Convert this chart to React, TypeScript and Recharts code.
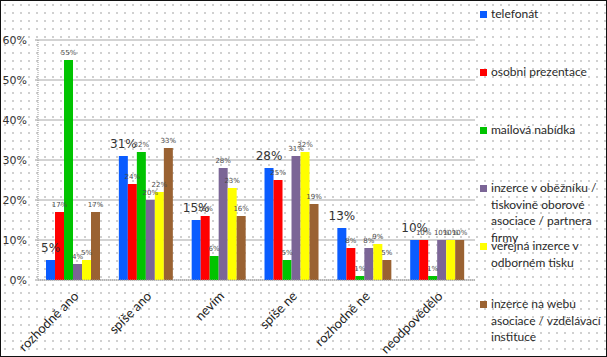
import { BarChart, Bar, XAxis, YAxis, CartesianGrid, LabelList } from "recharts";

const categories = ["rozhodně ano", "spíše ano", "nevím", "spíše ne", "rozhodně ne", "neodpovědělo"];

const seriesNames = [
  "telefonát",
  "osobni prezentace",
  "mailová nabídka",
  "inzerce v oběžníku / tiskovině oborové asociace / partnera firmy",
  "veřejná inzerce v odborném tisku",
  "inzerce na webu asociace / vzdělávací instituce",
];

const telefonat = [5, 31, 15, 28, 13, 10];
const osobni = [17, 24, 16, 25, 8, 10];
const mailova = [55, 32, 6, 5, 1, 1];
const obeznik = [4, 20, 28, 31, 8, 10];
const verejna = [5, 22, 23, 32, 9, 10];
const web = [17, 33, 16, 19, 5, 10];

const yTicks = [0, 10, 20, 30, 40, 50, 60];

const colors = ["#0a5cff", "#ff0000", "#00c400", "#7b6596", "#ffff00", "#9a6232"];

const allSeries = [telefonat, osobni, mailova, obeznik, verejna, web];

const data = categories.map((c, i) => {
  const row: Record<string, string | number> = { name: c };
  allSeries.forEach((s, k) => {
    row["s" + k] = s[i];
  });
  return row;
});

const makeLabel = (big: boolean) => (props: any) => {
  const { x, y, width, value } = props;
  return (
    <text
      x={x + width / 2}
      y={y - (big ? 8 : 5)}
      textAnchor="middle"
      fontSize={big ? 12 : 7}
      fill={big ? "#333" : "#4a4a4a"}
      fontFamily="DejaVu Sans"
    >
      {value}%
    </text>
  );
};

const XTick = (props: any) => {
  const { x, y, payload } = props;
  return (
    <g transform={`translate(${x + 5},${y + 9})`}>
      <text
        transform="rotate(-45)"
        textAnchor="end"
        fontSize={13}
        fill="#222"
        fontFamily="Lato"
      >
        {payload.value}
      </text>
    </g>
  );
};

export default function App() {
  return (
    <div
      style={{
        position: "absolute",
        left: 0,
        top: 0,
        width: 607,
        height: 357,
        boxSizing: "border-box",
        border: "1px solid #111",
        background: "#fff",
        backgroundImage: "radial-gradient(#cfcfcf 0.7px, transparent 1px)",
        backgroundSize: "8px 8px",
        overflow: "hidden",
      }}
    >
      <div style={{ position: "absolute", left: -1, top: -1 }}>
        <BarChart
          width={607}
          height={357}
          data={data}
          margin={{ top: 40, right: 132, bottom: 0, left: 0 }}
          barCategoryGap="11%"
          barGap={0}
        >
          <CartesianGrid vertical={false} stroke="#c4c4c4" strokeWidth={1.6} />
          <XAxis
            dataKey="name"
            height={77}
            interval={0}
            tick={<XTick />}
            axisLine={{ stroke: "#999", strokeDasharray: "1 1" }}
            tickLine={false}
          />
          <YAxis
            width={38}
            domain={[0, 60]}
            ticks={yTicks}
            tickFormatter={(v) => `${v}%`}
            tick={{ fontSize: 11, fill: "#333", fontFamily: "DejaVu Sans" }}
            axisLine={{ stroke: "#999", strokeDasharray: "1 1" }}
            tickLine={{ stroke: "#999" }}
            tickSize={3}
            tickMargin={8}
          />
          {seriesNames.map((n, k) => (
            <Bar key={n} dataKey={"s" + k} name={n} fill={colors[k]} isAnimationActive={false}>
              <LabelList dataKey={"s" + k} content={makeLabel(k === 0)} />
            </Bar>
          ))}
        </BarChart>
      </div>
      <div style={{ position: "absolute", left: 479, top: 5, width: 126 }}>
        {seriesNames.map((n, k) => (
          <div
            key={n}
            style={{
              position: "absolute",
              top: k * 58,
              left: 0,
              display: "flex",
              alignItems: "flex-start",
              fontFamily: "Lato",
              fontSize: 12,
              lineHeight: "16.5px",
              color: "#2a2a2a",
            }}
          >
            <span
              style={{
                display: "inline-block",
                width: 7,
                height: 7,
                background: colors[k],
                marginTop: 5,
                marginRight: 4,
                flex: "none",
              }}
            />
            <span style={{ width: 115 }}>{n}</span>
          </div>
        ))}
      </div>
    </div>
  );
}
